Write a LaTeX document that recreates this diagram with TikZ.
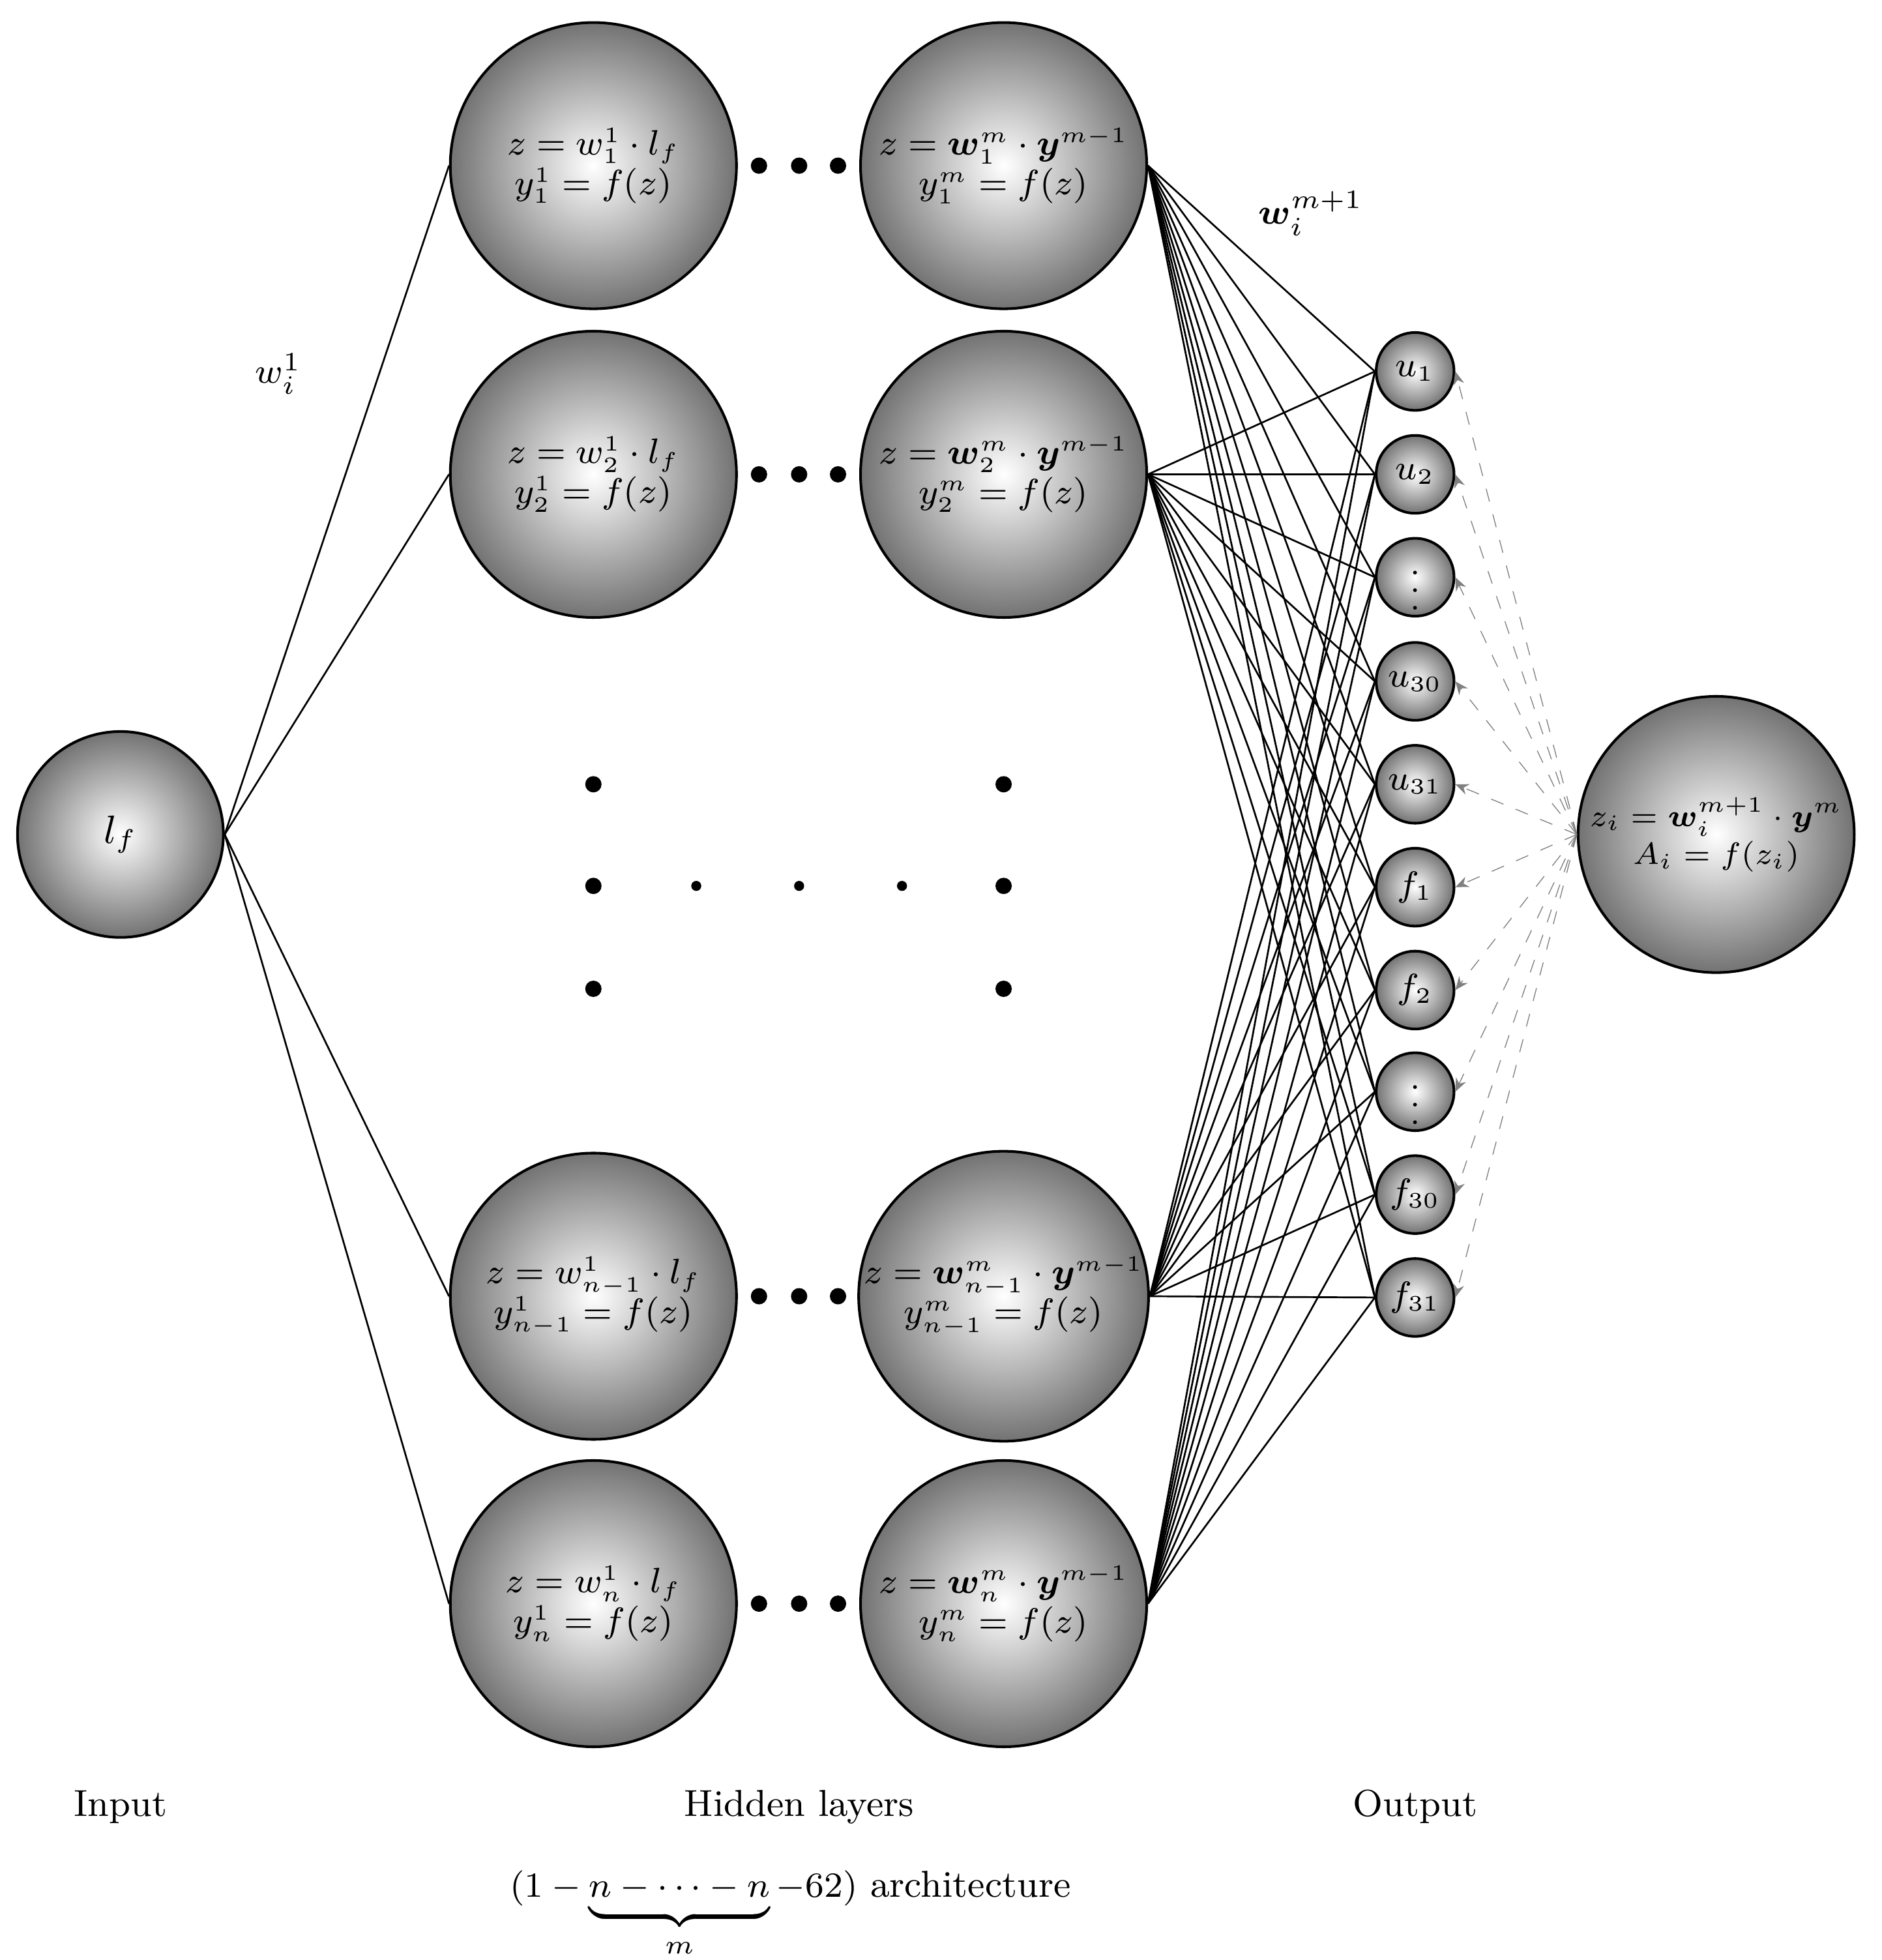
\documentclass[tikz,border=0pt]{standalone}
\usepackage{amsmath,bm}
\usetikzlibrary{arrows.meta}
\begin{document}
\begin{tikzpicture}[x=0.01cm,y=-0.01cm,
  neuron/.style={circle,draw=black,semithick,inner color=white,outer color=black!55,inner sep=0pt,align=center,font=\fontsize{7.6}{9}\selectfont},
  big/.style={neuron,minimum size=2.28cm},
  small/.style={neuron,minimum size=0.62cm,font=\fontsize{7.6}{9}\selectfont},
  conn/.style={thin,black},
  back/.style={gray,dashed,very thin,-{Stealth[length=3pt,width=2.5pt]}},
  dot/.style={circle,fill=black,inner sep=0pt,minimum size=0.13cm},
  sdot/.style={circle,fill=black,inner sep=0pt,minimum size=0.08cm},
  lbl/.style={font=\fontsize{8.5}{10}\selectfont}]
\useasboundingbox (0,0) rectangle (1500,1562);
\node[neuron,minimum size=1.64cm,font=\fontsize{9}{10}\selectfont] (in) at (96,665) {$l_f$};
\node[big] (a1) at (473,132) {$z=w_1^1\cdot l_f$\\$y_1^1=f(z)$};
\node[big] (a2) at (473,378) {$z=w_2^1\cdot l_f$\\$y_2^1=f(z)$};
\node[big] (a3) at (473,1033) {$z=w_{n-1}^1\cdot l_f$\\$y_{n-1}^1=f(z)$};
\node[big] (a4) at (473,1278) {$z=w_n^1\cdot l_f$\\$y_n^1=f(z)$};
\node[big] (b1) at (800,132) {$z=\bm{w}_1^m\cdot \bm{y}^{m-1}$\\$y_1^m=f(z)$};
\node[big] (b2) at (800,378) {$z=\bm{w}_2^m\cdot \bm{y}^{m-1}$\\$y_2^m=f(z)$};
\node[big] (b3) at (800,1033) {$z=\bm{w}_{n-1}^m\cdot \bm{y}^{m-1}$\\$y_{n-1}^m=f(z)$};
\node[big] (b4) at (800,1278) {$z=\bm{w}_n^m\cdot \bm{y}^{m-1}$\\$y_n^m=f(z)$};
\foreach \y in {132,378,1033,1278}{
  \foreach \x in {605,637,668} \node[dot] at (\x,\y) {};}
\foreach \x/\y [count=\k] in {473/625,473/706,473/788,800/625,800/706,800/788} \node[dot] (d\k) at (\x,\y) {};
\foreach \x [count=\k] in {555,637,719} \node[sdot] (s\k) at (\x,706) {};
\foreach \t/\y [count=\k] in {{u_1}/296,{u_2}/378,{\vdots}/460,{u_{30}}/543,{u_{31}}/625,{f_1}/707,{f_2}/789,{\vdots}/870,{f_{30}}/952,{f_{31}}/1034}
  \node[small] (o\k) at (1128,\y) {$\t$};
\node[neuron,minimum size=2.2cm,font=\fontsize{7.2}{8.6}\selectfont] (out) at (1368,665) {$z_i=\bm{w}_i^{m+1}\cdot\bm{y}^m$\\$A_i=f(z_i)$};
\foreach \a in {a1,a2,a3,a4} \draw[conn] (in.east) -- (\a.west);
\foreach \b in {b1,b2,b3,b4}
  \foreach \k in {1,...,10} \draw[conn] (\b.east) -- (o\k.west);
\foreach \k in {1,...,10} \draw[back] (out.west) -- (o\k.east);
\node[lbl] (l1) at (222,298) {$w_i^1$};
\node[lbl] (l2) at (1045,170) {$\bm{w}_i^{m+1}$};
\node[lbl] (t1) at (96,1440) {Input};
\node[lbl] (t2) at (637,1440) {Hidden layers};
\node[lbl] (t3) at (1128,1440) {Output};
\node[lbl,anchor=base] (t4) at (630,1512) {$(1-\underbrace{n-\cdots-n}_{m}-62)$ architecture};
\end{tikzpicture}
\end{document}
